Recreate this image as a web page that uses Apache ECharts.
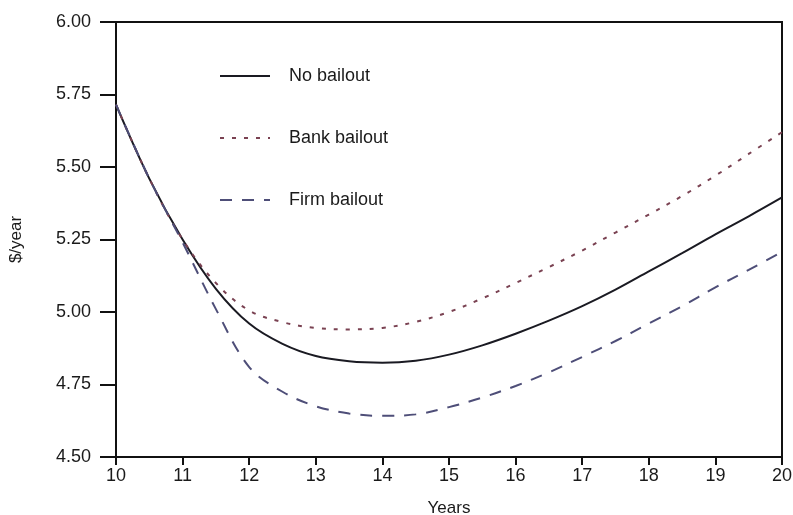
<!DOCTYPE html>
<html>
<head>
<meta charset="utf-8">
<script src="https://cdn.jsdelivr.net/npm/echarts@6/dist/echarts.min.js"></script>
<style>
  html, body { margin: 0; padding: 0; background: #fff; }
  #chart { width: 793px; height: 515px; }
</style>
</head>
<body>
<div id="chart"></div>
<script>
var years = [10, 10.5, 11, 11.5, 12, 12.5, 13, 13.5, 14, 14.5, 15, 15.5, 16, 16.5, 17, 17.5, 18, 18.5, 19, 19.5, 20];
var noBailout   = [5.715, 5.46, 5.25, 5.08, 4.96, 4.89, 4.848, 4.83, 4.825, 4.832, 4.853, 4.885, 4.925, 4.97, 5.02, 5.077, 5.14, 5.203, 5.268, 5.33, 5.395];
var bankBailout = [5.715, 5.46, 5.25, 5.10, 5.005, 4.965, 4.945, 4.94, 4.945, 4.966, 5.00, 5.047, 5.10, 5.155, 5.212, 5.274, 5.336, 5.40, 5.47, 5.545, 5.62];
var firmBailout = [5.715, 5.46, 5.24, 5.01, 4.81, 4.725, 4.675, 4.65, 4.642, 4.647, 4.672, 4.705, 4.745, 4.792, 4.845, 4.90, 4.96, 5.02, 5.085, 5.145, 5.207];
var seriesNames = ['No bailout', 'Bank bailout', 'Firm bailout'];

function pairs(ys) {
    return years.map(function (x, i) { return [x, ys[i]]; });
}

var chart = echarts.init(document.getElementById('chart'));
var font = 'Liberation Sans, Arial, sans-serif';

chart.setOption({
    animation: false,
    backgroundColor: '#fff',
    grid: {
        left: 116, right: 11, top: 22, bottom: 58,
        outerBoundsMode: 'none', containLabel: false,
        show: true, borderColor: '#111', borderWidth: 2
    },
    legend: {
        orient: 'vertical',
        left: 214, top: 62,
        itemWidth: 50, itemHeight: 16,
        itemGap: 44,
        itemStyle: { opacity: 0 },
        textStyle: { fontFamily: font, fontSize: 18, color: '#1a1a1a', padding: [0, 0, 0, 14] },
        data: seriesNames
    },
    xAxis: {
        type: 'value', min: 10, max: 20, interval: 1,
        name: 'Years', nameLocation: 'middle', nameGap: 43,
        nameTextStyle: { fontFamily: font, fontSize: 17, color: '#1a1a1a' },
        axisLine: { lineStyle: { color: '#111', width: 2 } },
        axisTick: { show: true, length: 8, lineStyle: { color: '#111', width: 2 } },
        axisLabel: { fontFamily: font, fontSize: 18, color: '#1a1a1a', margin: 10 },
        splitLine: { show: false }
    },
    yAxis: {
        type: 'value', min: 4.5, max: 6, interval: 0.25,
        name: '$/year', nameLocation: 'middle', nameGap: 91,
        nameTextStyle: { fontFamily: font, fontSize: 17, color: '#1a1a1a' },
        axisLine: { show: true, lineStyle: { color: '#111', width: 2 } },
        axisTick: { show: true, length: 16, lineStyle: { color: '#111', width: 2 } },
        axisLabel: {
            fontFamily: font, fontSize: 18, color: '#1a1a1a', margin: 25,
            formatter: function (v) { return v.toFixed(2); }
        },
        splitLine: { show: false }
    },
    series: [
        {
            name: seriesNames[0], type: 'line', smooth: 0.35, symbol: 'none',
            data: pairs(noBailout),
            itemStyle: { color: '#1a1a22' },
            lineStyle: { color: '#1a1a22', width: 2 }
        },
        {
            name: seriesNames[1], type: 'line', smooth: 0.35, symbol: 'none',
            data: pairs(bankBailout),
            itemStyle: { color: '#7a4252' },
            lineStyle: { color: '#7a4252', width: 2, type: [4, 8] }
        },
        {
            name: seriesNames[2], type: 'line', smooth: 0.35, symbol: 'none',
            data: pairs(firmBailout),
            itemStyle: { color: '#4e4e78' },
            lineStyle: { color: '#4e4e78', width: 2, type: [12, 10] }
        }
    ]
});
</script>
</body>
</html>
